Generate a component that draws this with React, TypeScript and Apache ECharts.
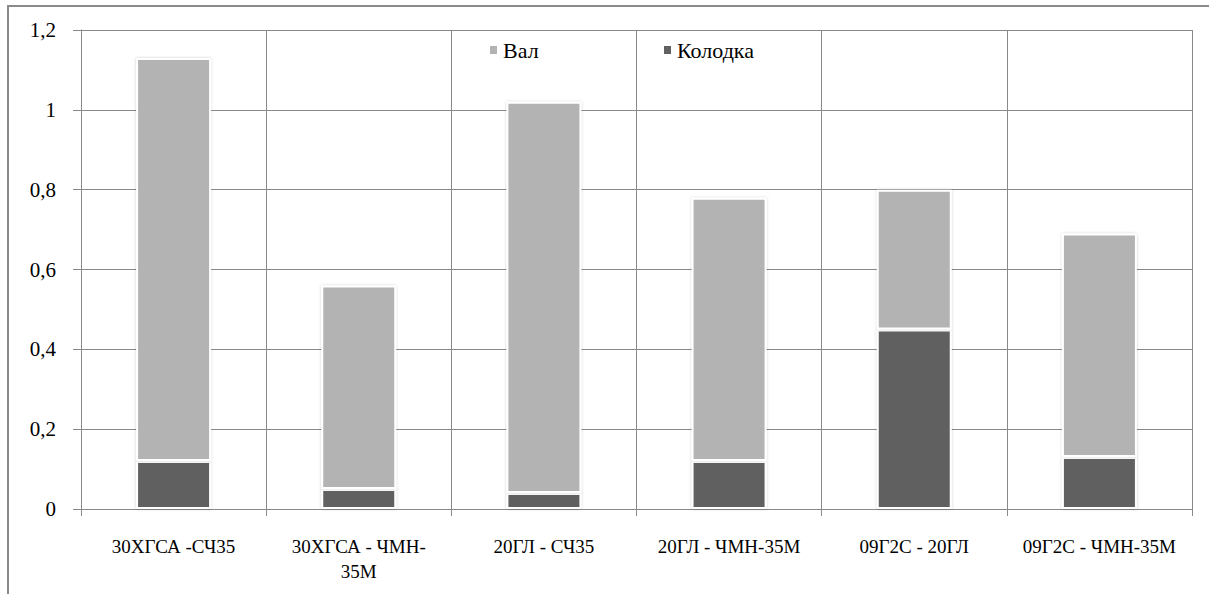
import React, { useEffect, useRef } from "react";
import * as echarts from "echarts";

const categories = [
  "30ХГСА -СЧ35",
  "30ХГСА - ЧМН-\n35М",
  "20ГЛ - СЧ35",
  "20ГЛ - ЧМН-35М",
  "09Г2С - 20ГЛ",
  "09Г2С - ЧМН-35М",
];
const kolodka = [0.12, 0.05, 0.04, 0.12, 0.45, 0.13];
const val = [1.01, 0.51, 0.98, 0.66, 0.35, 0.56];
const seriesNames = ["Вал", "Колодка"];

const FONT = "Liberation Serif";
const GRID = "#898989";

export default function App() {
  const ref = useRef<HTMLDivElement>(null);
  useEffect(() => {
    if (!ref.current) return;
    const chart = echarts.init(ref.current, null, { renderer: "svg" });
    const barItem = (color: string) => ({
      color,
      borderColor: "#ffffff",
      borderWidth: 2,
      shadowBlur: 3,
      shadowColor: "rgba(0,0,0,0.2)",
    });
    const legendCommon = {
      top: 34,
      icon: "rect",
      itemWidth: 9,
      itemHeight: 10,
      textStyle: { fontFamily: FONT, fontSize: 22, color: "#000", padding: [0, 0, 0, 0] },
    };
    chart.setOption({
      animation: false,
      backgroundColor: "#ffffff",
      textStyle: { fontFamily: FONT },
      grid: { left: 81, right: 17, top: 30, bottom: 85, containLabel: false },
      legend: [
        { ...legendCommon, data: [seriesNames[0]], left: 483 },
        { ...legendCommon, data: [seriesNames[1]], left: 657 },
      ],
      graphic: [
        { type: "line", shape: { x1: 7, y1: 6, x2: 1209, y2: 6 }, style: { stroke: "#8a8a8a", lineWidth: 2 } },
        { type: "line", shape: { x1: 8, y1: 5, x2: 8, y2: 594 }, style: { stroke: "#8a8a8a", lineWidth: 2 } },
      ],
      xAxis: {
        type: "category",
        data: categories,
        axisLine: { show: true, lineStyle: { color: GRID, width: 1 } },
        axisTick: { show: true, length: 7, lineStyle: { color: GRID } },
        splitLine: { show: true, lineStyle: { color: GRID, width: 1 } },
        axisLabel: {
          fontFamily: FONT,
          fontSize: 19,
          color: "#000",
          margin: 25,
          lineHeight: 25,
          interval: 0,
        },
      },
      yAxis: {
        type: "value",
        min: 0,
        max: 1.2,
        interval: 0.2,
        axisLine: { show: true, lineStyle: { color: GRID, width: 1 } },
        axisTick: { show: true, length: 8, lineStyle: { color: GRID } },
        splitLine: { show: true, lineStyle: { color: GRID, width: 1 } },
        axisLabel: {
          fontFamily: FONT,
          fontSize: 21,
          color: "#000",
          margin: 25,
          formatter: (v: number) => String(+v.toFixed(1)).replace(".", ","),
        },
      },
      series: [
        {
          name: "Колодка",
          type: "bar",
          stack: "total",
          data: kolodka,
          barWidth: 75,
          itemStyle: barItem("#616161"),
        },
        {
          name: "Вал",
          type: "bar",
          stack: "total",
          data: val,
          barWidth: 75,
          itemStyle: barItem("#b3b3b3"),
        },
      ],
    });
    return () => chart.dispose();
  }, []);
  return (
    <div
      ref={ref}
      style={{ position: "fixed", left: 0, top: 0, width: 1209, height: 594 }}
    />
  );
}
